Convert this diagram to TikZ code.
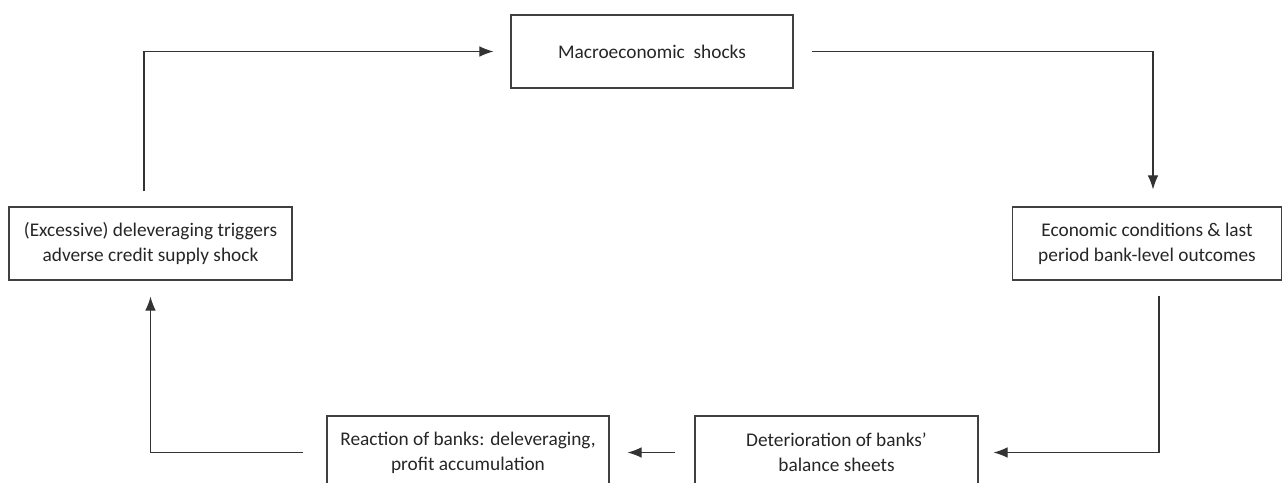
\documentclass[tikz,border=0pt]{standalone}
\usepackage{fontspec}
\setmainfont{Carlito}
\usetikzlibrary{arrows.meta}

\begin{document}
\begin{tikzpicture}[box/.style={draw=black!75, line width=0.6pt, text=black!85, align=center, inner sep=0pt, minimum height=1.46cm, font=\fontsize{11}{14.2}\selectfont}, line/.style={->, draw=black!80, line width=0.6pt}, >={Latex[length=8pt,width=6pt]}]
\useasboundingbox (0,0) rectangle (25.64,-9.64);
\node[box, minimum width=5.64cm] (macro) at (13.04 cm,-1.03cm) {Macroeconomic\ \ shocks};
\node[box, minimum width=5.38cm] (econ) at (22.94 cm,-4.87cm) {Economic conditions \& last\\period bank-level outcomes};
\node[box, minimum width=5.66cm] (excess) at (3.01 cm,-4.87cm) {(Excessive) deleveraging triggers\\adverse credit supply shock};
\node[box, minimum width=5.64cm] (react) at (9.36 cm,-9.05cm) {Reaction of banks: deleveraging,\\profit accumulation};
\node[box, minimum width=5.66cm] (deter) at (16.73 cm,-9.05cm) {Deterioration of banks'\\balance sheets};
\draw[line, shorten <=0.36cm, shorten >=0.34cm] (macro.east) -| ([xshift=0.12cm]econ.north);
\draw[line, shorten <=0.3cm, shorten >=0.3cm] ([xshift=0.24cm]econ.south) |- (deter.east);
\draw[line, shorten <=0.38cm, shorten >=0.36cm] (deter.west) -- (react.east);
\draw[line, shorten <=0.46cm, shorten >=0.32cm] (react.west) -| (excess.south);
\draw[line, shorten <=0.3cm, shorten >=0.34cm] ([xshift=-0.13cm]excess.north) |- (macro.west);
\end{tikzpicture}
\end{document}
